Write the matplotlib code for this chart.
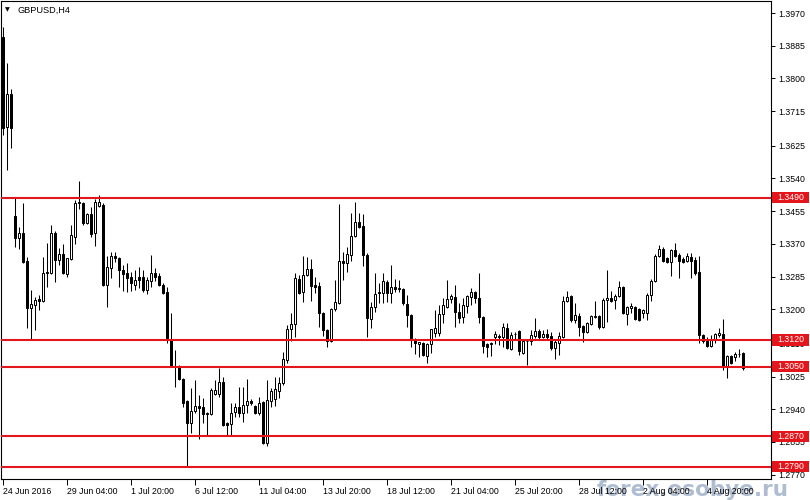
import matplotlib
matplotlib.use("Agg")
import matplotlib.pyplot as plt
from matplotlib.patches import Rectangle
from matplotlib.transforms import blended_transform_factory
import numpy as np

opens = [1.3908,1.3674,1.3760,1.3442,1.3385,1.3398,1.3325,1.3203,1.3211,1.3227,
1.3221,1.3294,1.3294,1.3398,1.3328,1.3344,1.3292,1.3331,1.3388,1.3476,
1.3476,1.3424,1.3448,1.3398,1.3468,1.3471,1.3263,1.3307,1.3338,1.3333,
1.3302,1.3294,1.3284,1.3263,1.3284,1.3284,1.3250,1.3273,1.3294,1.3286,
1.3263,1.3245,1.3123,1.3052,1.3050,1.3019,1.2961,1.2904,1.2935,1.2948,
1.2946,1.2928,1.2928,1.2980,1.2980,1.3011,1.2904,1.2902,1.2933,1.2946,
1.2930,1.2951,1.2961,1.2948,1.2930,1.2959,1.2852,1.2961,1.2967,1.2988,
1.3008,1.3068,1.3149,1.3162,1.3279,1.3245,1.3289,1.3305,1.3263,1.3260,
1.3190,1.3146,1.3117,1.3201,1.3216,1.3325,1.3320,1.3341,1.3390,1.3427,
1.3416,1.3341,1.3175,1.3206,1.3245,1.3242,1.3271,1.3242,1.3258,1.3253,
1.3253,1.3214,1.3185,1.3123,1.3110,1.3112,1.3078,1.3110,1.3138,1.3138,
1.3188,1.3206,1.3227,1.3232,1.3193,1.3180,1.3208,1.3232,1.3245,1.3229,
1.3180,1.3110,1.3110,1.3128,1.3130,1.3128,1.3151,1.3097,1.3136,1.3143,
1.3086,1.3117,1.3117,1.3130,1.3143,1.3128,1.3136,1.3130,1.3099,1.3112,
1.3128,1.3221,1.3234,1.3172,1.3182,1.3156,1.3141,1.3162,1.3180,1.3182,
1.3154,1.3224,1.3229,1.3224,1.3234,1.3258,1.3188,1.3203,1.3206,1.3201,
1.3190,1.3190,1.3237,1.3273,1.3338,1.3357,1.3333,1.3323,1.3354,1.3341,
1.3331,1.3325,1.3336,1.3328,1.3297,1.3133,1.3117,1.3104,1.3120,1.3133,
1.3136,1.3050,1.3078,1.3076,1.3084,1.3086]

highs = [1.3934,1.3840,1.3773,1.3492,1.3414,1.3476,1.3336,1.3250,1.3232,1.3237,
1.3336,1.3372,1.3419,1.3403,1.3359,1.3370,1.3333,1.3419,1.3484,1.3533,
1.3479,1.3450,1.3466,1.3487,1.3497,1.3476,1.3338,1.3349,1.3349,1.3336,
1.3315,1.3320,1.3297,1.3302,1.3310,1.3302,1.3284,1.3341,1.3307,1.3294,
1.3268,1.3258,1.3190,1.3094,1.3055,1.3021,1.2964,1.2996,1.3016,1.2977,
1.2969,1.2933,1.2996,1.3016,1.3047,1.3024,1.2907,1.2956,1.2956,1.2998,
1.2998,1.3019,1.2967,1.2951,1.2972,1.2961,1.3016,1.2996,1.3024,1.3024,
1.3089,1.3159,1.3190,1.3294,1.3289,1.3338,1.3336,1.3331,1.3284,1.3271,
1.3193,1.3149,1.3203,1.3276,1.3474,1.3349,1.3362,1.3450,1.3479,1.3450,
1.3448,1.3346,1.3219,1.3294,1.3268,1.3294,1.3276,1.3315,1.3279,1.3276,
1.3255,1.3237,1.3188,1.3125,1.3115,1.3115,1.3112,1.3149,1.3198,1.3211,
1.3229,1.3276,1.3240,1.3263,1.3216,1.3229,1.3237,1.3255,1.3247,1.3294,
1.3182,1.3112,1.3115,1.3143,1.3136,1.3164,1.3164,1.3141,1.3141,1.3146,
1.3120,1.3120,1.3146,1.3177,1.3149,1.3146,1.3149,1.3141,1.3120,1.3141,
1.3234,1.3247,1.3237,1.3216,1.3190,1.3159,1.3167,1.3185,1.3221,1.3185,
1.3229,1.3302,1.3247,1.3240,1.3273,1.3260,1.3208,1.3216,1.3208,1.3203,
1.3201,1.3242,1.3279,1.3344,1.3367,1.3362,1.3336,1.3357,1.3372,1.3346,
1.3336,1.3346,1.3346,1.3336,1.3338,1.3136,1.3128,1.3133,1.3138,1.3151,
1.3175,1.3081,1.3081,1.3089,1.3097,1.3089]

lows = [1.3653,1.3562,1.3619,1.3362,1.3357,1.3320,1.3151,1.3120,1.3146,1.3198,
1.3219,1.3258,1.3292,1.3271,1.3315,1.3292,1.3284,1.3328,1.3370,1.3461,
1.3419,1.3422,1.3388,1.3364,1.3466,1.3260,1.3206,1.3281,1.3323,1.3258,
1.3247,1.3245,1.3247,1.3250,1.3255,1.3245,1.3240,1.3258,1.3273,1.3260,
1.3240,1.3112,1.3050,1.2998,1.3016,1.2946,1.2792,1.2878,1.2930,1.2863,
1.2904,1.2873,1.2925,1.2977,1.2972,1.2896,1.2873,1.2873,1.2920,1.2920,
1.2907,1.2930,1.2951,1.2928,1.2925,1.2850,1.2844,1.2946,1.2948,1.2969,
1.3003,1.3060,1.3117,1.3128,1.3240,1.3219,1.3286,1.3221,1.3242,1.3154,
1.3130,1.3102,1.3115,1.3195,1.3214,1.3276,1.3297,1.3325,1.3388,1.3411,
1.3312,1.3128,1.3151,1.3193,1.3216,1.3216,1.3219,1.3216,1.3245,1.3245,
1.3211,1.3154,1.3102,1.3084,1.3076,1.3078,1.3060,1.3086,1.3128,1.3130,
1.3164,1.3203,1.3216,1.3154,1.3164,1.3164,1.3190,1.3211,1.3216,1.3164,
1.3086,1.3076,1.3078,1.3110,1.3107,1.3102,1.3097,1.3094,1.3120,1.3081,
1.3084,1.3055,1.3107,1.3125,1.3120,1.3125,1.3123,1.3094,1.3071,1.3081,
1.3125,1.3219,1.3167,1.3164,1.3130,1.3115,1.3138,1.3159,1.3177,1.3149,
1.3151,1.3167,1.3219,1.3201,1.3232,1.3188,1.3159,1.3190,1.3172,1.3169,
1.3177,1.3172,1.3221,1.3271,1.3336,1.3323,1.3320,1.3286,1.3336,1.3281,
1.3320,1.3323,1.3281,1.3289,1.3112,1.3112,1.3102,1.3102,1.3112,1.3128,
1.3042,1.3021,1.3058,1.3065,1.3076,1.3042]

closes = [1.3671,1.3760,1.3671,1.3385,1.3398,1.3323,1.3203,1.3214,1.3224,1.3221,
1.3294,1.3297,1.3398,1.3328,1.3344,1.3294,1.3333,1.3393,1.3476,1.3479,
1.3424,1.3448,1.3396,1.3479,1.3479,1.3263,1.3310,1.3338,1.3333,1.3302,
1.3292,1.3281,1.3268,1.3276,1.3276,1.3250,1.3276,1.3294,1.3284,1.3263,
1.3242,1.3125,1.3052,1.3050,1.3019,1.2956,1.2904,1.2935,1.2948,1.2943,
1.2928,1.2930,1.2990,1.2990,1.3011,1.2899,1.2899,1.2930,1.2946,1.2930,
1.2951,1.2961,1.2956,1.2930,1.2956,1.2852,1.2964,1.2988,1.2993,1.3008,
1.3071,1.3149,1.3162,1.3281,1.3242,1.3289,1.3305,1.3260,1.3258,1.3190,
1.3146,1.3117,1.3201,1.3219,1.3325,1.3320,1.3344,1.3390,1.3427,1.3414,
1.3341,1.3177,1.3206,1.3240,1.3242,1.3273,1.3242,1.3258,1.3253,1.3255,
1.3216,1.3185,1.3125,1.3112,1.3115,1.3081,1.3110,1.3149,1.3151,1.3188,
1.3211,1.3227,1.3234,1.3193,1.3177,1.3211,1.3234,1.3245,1.3229,1.3180,
1.3104,1.3102,1.3112,1.3136,1.3128,1.3154,1.3099,1.3133,1.3136,1.3091,
1.3117,1.3117,1.3133,1.3143,1.3128,1.3136,1.3128,1.3099,1.3115,1.3130,
1.3221,1.3232,1.3172,1.3185,1.3154,1.3141,1.3164,1.3182,1.3182,1.3154,
1.3224,1.3229,1.3221,1.3234,1.3258,1.3190,1.3206,1.3208,1.3175,1.3172,
1.3198,1.3237,1.3273,1.3338,1.3357,1.3325,1.3323,1.3354,1.3338,1.3325,
1.3323,1.3338,1.3325,1.3294,1.3133,1.3117,1.3104,1.3123,1.3136,1.3138,
1.3050,1.3078,1.3060,1.3084,1.3084,1.3047]

time_tick_index = [0, 16, 32, 48, 64, 80, 96, 112, 128, 144, 160, 176]
time_tick_labels = ["24 Jun 2016", "29 Jun 04:00", "1 Jul 20:00", "6 Jul 12:00",
                    "11 Jul 04:00", "13 Jul 20:00", "18 Jul 12:00", "21 Jul 04:00",
                    "25 Jul 20:00", "28 Jul 12:00", "2 Aug 04:00", "4 Aug 20:00"]
price_ticks = [1.3970, 1.3885, 1.3800, 1.3715, 1.3625, 1.3540, 1.3455, 1.3370,
               1.3285, 1.3200, 1.3110, 1.3025, 1.2940, 1.2855, 1.2770]
levels = [1.3490, 1.3120, 1.3050, 1.2870, 1.2790]

symbol_title = "GBPUSD,H4"
watermark = "forex.osobye.ru"

FONT = "Liberation Sans"
RED = "#e3161c"

fig = plt.figure(figsize=(8.1, 5.0), dpi=100)
fig.patch.set_facecolor("white")
ax = fig.add_axes([1/810, 21/500, 770/810, 478/500])
ax.set_facecolor("white")
ax.set_zorder(1)

o = np.array(opens); h = np.array(highs); l = np.array(lows); c = np.array(closes)
x = np.arange(len(o))

ax.vlines(x, l, h, color="black", lw=0.75, zorder=2)
bull = c >= o
ax.bar(x[bull], c[bull] - o[bull], bottom=o[bull], width=0.55,
       facecolor="white", edgecolor="black", linewidth=0.72, zorder=3)
ax.bar(x[~bull], c[~bull] - o[~bull], bottom=o[~bull], width=0.55,
       facecolor="black", edgecolor="black", linewidth=0.72, zorder=3)

for lv in levels:
    ax.axhline(lv, color=RED, lw=1.5, zorder=4)

ax.set_xlim(-0.5, 192)
ax.set_ylim(1.27586, 1.40014)

ax.yaxis.tick_right()
ax.set_yticks(price_ticks)
ax.set_yticklabels([f"{v:.4f}" for v in price_ticks], fontfamily=FONT)
ax.tick_params(axis="y", direction="out", length=3, width=0.7, pad=2,
               labelsize=6.3, colors="black")

ax.set_xticks(time_tick_index)
ax.set_xticklabels(time_tick_labels, fontfamily=FONT)
ax.tick_params(axis="x", direction="out", length=4, width=0.7, pad=2,
               labelsize=6.3, colors="black")
for lbl in ax.get_xticklabels():
    lbl.set_ha("left")

for sp in ax.spines.values():
    sp.set_color("black")
    sp.set_linewidth(0.8)

# red price labels on the right scale
tr = blended_transform_factory(fig.transFigure, ax.transData)
box_h = 11 * 0.00026
for lv in levels:
    ax.add_patch(Rectangle((772/810, lv - box_h/2), 37/810, box_h, transform=tr,
                           facecolor=RED, edgecolor="none", clip_on=False, zorder=10))
    ax.text(777/810, lv, f"{lv:.4f}", transform=tr, color="white", fontsize=6.3,
            fontfamily=FONT, ha="left", va="center", zorder=11, clip_on=False)

# title
fig.text(5/810, 1 - 10/500, "\u25BC", fontsize=4.5, va="center", ha="left",
         family="DejaVu Sans", zorder=5)
fig.text(17/810, 1 - 10/500, symbol_title, fontsize=6.6, va="center", ha="left",
         fontfamily=FONT, zorder=5)

# watermark (drawn beneath the axis labels)
fig.text(597/810, 1 - 490/500, watermark, fontsize=15.5, fontweight="bold",
         color="#a7b6ce", alpha=0.9, va="center", ha="left", family="DejaVu Sans",
         zorder=-1)

fig.savefig("out.png", dpi=100, facecolor="white")
